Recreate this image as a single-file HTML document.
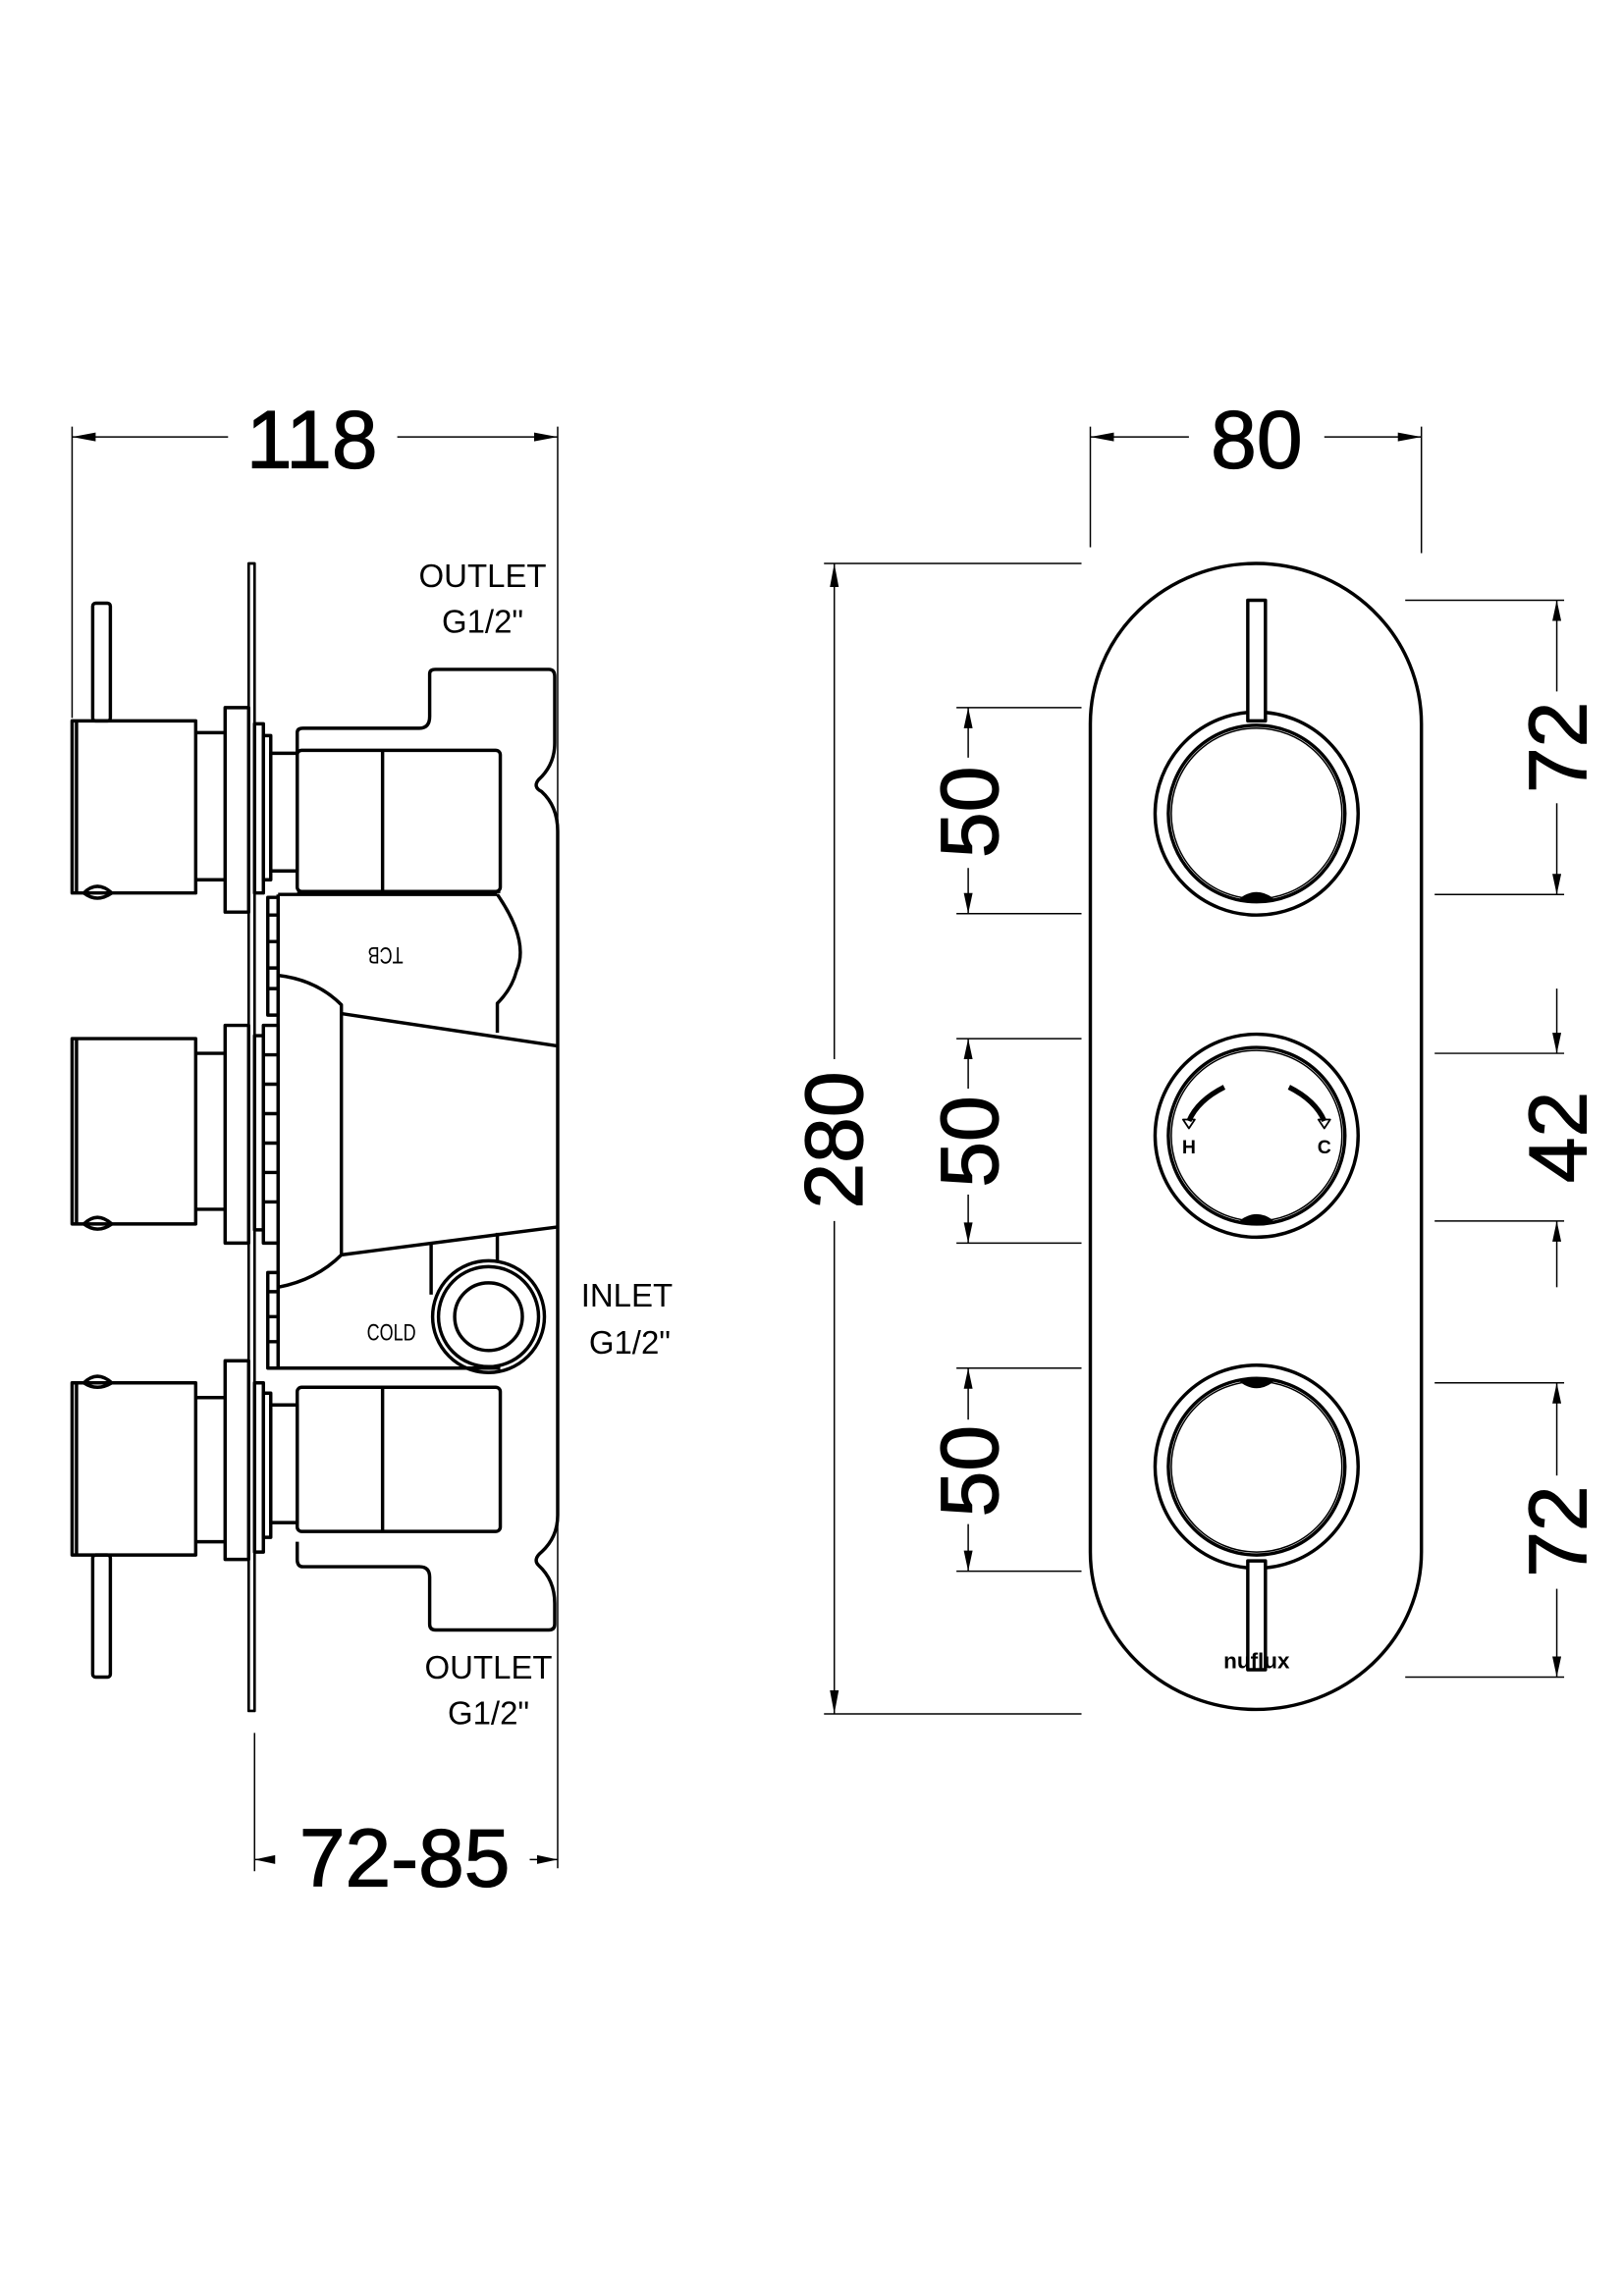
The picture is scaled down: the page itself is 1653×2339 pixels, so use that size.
<!DOCTYPE html>
<html><head><meta charset="utf-8"><style>
html,body{margin:0;padding:0;background:#fff;}
svg{display:block;}
text{font-family:"Liberation Sans",sans-serif;fill:#000;}
</style></head><body>
<svg width="1653" height="2339" viewBox="0 0 1103 1560.7" xmlns="http://www.w3.org/2000/svg">
<g fill="none" stroke="#000" stroke-width="2.3" stroke-linejoin="round">
<rect x="169" y="383" width="4" height="780" stroke-width="1.8"/>
<rect x="63" y="410" width="12" height="80" rx="2"/>
<rect x="49" y="490" width="84" height="117"/>
<line x1="52" y1="490" x2="52" y2="607"/>
<path d="M57,607 Q66,598 76,607 Q66,614 57,607Z"/>
<line x1="133" y1="498" x2="153" y2="498"/><line x1="133" y1="598" x2="153" y2="598"/>
<rect x="153" y="481" width="16" height="139"/>
<rect x="173" y="492" width="6" height="115"/>
<rect x="179" y="500" width="5" height="98"/>
<rect x="184" y="512" width="18" height="80"/>
<rect x="49" y="706" width="84" height="126"/>
<line x1="52" y1="706" x2="52" y2="832"/>
<path d="M57,832 Q66,823 76,832 Q66,839 57,832Z"/>
<line x1="133" y1="716" x2="153" y2="716"/><line x1="133" y1="822" x2="153" y2="822"/>
<rect x="153" y="697" width="16" height="148"/>
<rect x="173" y="704" width="6" height="132"/>
<rect x="179" y="697" width="10" height="148"/>
<path d="M179,717H189M179,737H189M179,757H189M179,777H189M179,797H189M179,817H189"/>
<rect x="63" y="1057" width="12" height="83" rx="2"/>
<rect x="49" y="940" width="84" height="117"/>
<line x1="52" y1="940" x2="52" y2="1057"/>
<path d="M57,940 Q66,931 76,940 Q66,946 57,940Z"/>
<line x1="133" y1="950" x2="153" y2="950"/><line x1="133" y1="1048" x2="153" y2="1048"/>
<rect x="153" y="925" width="16" height="135"/>
<rect x="173" y="940" width="6" height="115"/>
<rect x="179" y="947" width="5" height="98"/>
<rect x="184" y="955" width="18" height="80"/>
<rect x="182" y="610" width="7" height="80"/>
<path d="M182,622H189M182,640H189M182,658H189M182,672H189"/>
<rect x="182" y="865" width="7" height="65"/>
<path d="M182,878H189M182,895H189M182,912H189"/>
<line x1="189" y1="608" x2="189" y2="930"/>
<path d="M202,512 V498 Q202,495 206,495 H285 Q292,495 292,487 V458 Q292,455 296,455 H373 Q377,455 377,460 V505 Q377,520 366,530 Q362,535 368,538 Q379,548 379,565 V1030 Q379,1045 368,1055 Q362,1060 366,1064 Q377,1074 377,1090 V1104 Q377,1108 373,1108 H296 Q292,1108 292,1104 V1072 Q292,1065 285,1065 H206 Q202,1065 202,1060 V1048"/>
<rect x="202" y="510" width="138" height="96" rx="3"/>
<line x1="260" y1="510" x2="260" y2="606"/>
<line x1="202" y1="606" x2="340" y2="606"/>
<rect x="202" y="943" width="138" height="98" rx="3"/>
<line x1="260" y1="943" x2="260" y2="1041"/>
<line x1="189" y1="930" x2="340" y2="930"/>
<line x1="189" y1="608" x2="338" y2="608"/>
<path d="M338,608 Q360,640 351,660 Q348,672 338,682 V702"/>
<path d="M189,663 Q215,666 232,683 V853 Q215,870 189,875"/>
<line x1="232" y1="689" x2="379" y2="711"/>
<line x1="232" y1="853" x2="379" y2="834"/>
<line x1="293" y1="846" x2="293" y2="880"/>
<line x1="338" y1="838" x2="338" y2="858"/>
<circle cx="332" cy="895" r="38"/>
<circle cx="332" cy="895" r="34"/>
<circle cx="332" cy="895" r="23"/>
<g stroke-width="1">
<line x1="49" y1="290" x2="49" y2="488"/>
<line x1="379" y1="290" x2="379" y2="1270"/>
<line x1="49" y1="297" x2="155" y2="297"/><line x1="270" y1="297" x2="379" y2="297"/>
<line x1="173" y1="1178" x2="173" y2="1272"/>
<line x1="173" y1="1264" x2="185" y2="1264"/><line x1="360" y1="1264" x2="379" y2="1264"/>
</g>
<path d="M741,492 A112.5,109 0 0 1 966,492 V1055 A112.5,107 0 0 1 741,1055 Z"/>
<circle cx="854" cy="553" r="69"/>
<circle cx="854" cy="553" r="60"/><circle cx="854" cy="553" r="58" stroke-width="1"/>
<circle cx="854" cy="772" r="69"/>
<circle cx="854" cy="772" r="60"/><circle cx="854" cy="772" r="58" stroke-width="1"/>
<circle cx="854" cy="997" r="69"/>
<circle cx="854" cy="997" r="60"/><circle cx="854" cy="997" r="58" stroke-width="1"/>
<rect x="848" y="408" width="12" height="82" fill="#fff"/>
<rect x="848" y="1061" width="12" height="74" fill="#fff"/>
<path d="M844,611 Q854,604 864,611Z M844,830 Q854,823 864,830Z M844,939 Q854,946 864,939Z" fill="#000"/>
<path d="M832,739 Q814,748 808,762" stroke-width="3.5"/>
<path d="M876,739 Q894,748 900,762" stroke-width="3.5"/>
<path d="M804,761 L812,761 L808,767Z M896,761 L904,761 L900,767Z" stroke-width="1.2"/>
<g stroke-width="1">
<line x1="741" y1="290" x2="741" y2="372"/><line x1="966" y1="290" x2="966" y2="376"/>
<line x1="741" y1="297" x2="808" y2="297"/><line x1="900" y1="297" x2="966" y2="297"/>
<line x1="560" y1="383" x2="735" y2="383"/><line x1="560" y1="1165" x2="735" y2="1165"/>
<line x1="567" y1="383" x2="567" y2="720"/><line x1="567" y1="830" x2="567" y2="1165"/>
<line x1="650" y1="481" x2="735" y2="481"/><line x1="650" y1="621" x2="735" y2="621"/>
<line x1="650" y1="706" x2="735" y2="706"/><line x1="650" y1="845" x2="735" y2="845"/>
<line x1="650" y1="930" x2="735" y2="930"/><line x1="650" y1="1068" x2="735" y2="1068"/>
<line x1="658" y1="481" x2="658" y2="515"/><line x1="658" y1="590" x2="658" y2="621"/>
<line x1="658" y1="706" x2="658" y2="740"/><line x1="658" y1="812" x2="658" y2="845"/>
<line x1="658" y1="930" x2="658" y2="965"/><line x1="658" y1="1036" x2="658" y2="1068"/>
<line x1="955" y1="408" x2="1063" y2="408"/><line x1="975" y1="608" x2="1063" y2="608"/>
<line x1="975" y1="716" x2="1063" y2="716"/><line x1="975" y1="830" x2="1063" y2="830"/>
<line x1="975" y1="940" x2="1063" y2="940"/><line x1="955" y1="1140" x2="1063" y2="1140"/>
<line x1="1058" y1="408" x2="1058" y2="470"/><line x1="1058" y1="546" x2="1058" y2="608"/>
<line x1="1058" y1="672" x2="1058" y2="716"/><line x1="1058" y1="830" x2="1058" y2="875"/>
<line x1="1058" y1="940" x2="1058" y2="1003"/><line x1="1058" y1="1080" x2="1058" y2="1140"/>
</g>
</g>
<g fill="#000">
<path d="M49,297 l16,-3 v6Z M379,297 l-16,-3 v6Z"/>
<path d="M173,1264 l14,-3 v6Z M379,1264 l-14,-3 v6Z"/>
<path d="M741,297 l16,-3 v6Z M966,297 l-16,-3 v6Z"/>
<path d="M567,383 l-3,16 h6Z M567,1165 l-3,-16 h6Z"/>
<path d="M658,481 l-3,14 h6Z M658,621 l-3,-14 h6Z M658,706 l-3,14 h6Z M658,845 l-3,-14 h6Z M658,930 l-3,14 h6Z M658,1068 l-3,-14 h6Z"/>
<path d="M1058,408 l-3,14 h6Z M1058,608 l-3,-14 h6Z M1058,716 l-3,-14 h6Z M1058,830 l-3,14 h6Z M1058,940 l-3,14 h6Z M1058,1140 l-3,-14 h6Z"/>
</g>
<g stroke="#000" stroke-width="0.8">
<text x="212" y="318" font-size="56" text-anchor="middle">118</text>
<text x="854" y="318" font-size="56" text-anchor="middle">80</text>
<text x="275" y="1282" font-size="56" text-anchor="middle">72-85</text>
<g font-size="56" text-anchor="middle">
<text transform="translate(586,775) rotate(-90)">280</text>
<text transform="translate(678,552) rotate(-90)">50</text>
<text transform="translate(678,776) rotate(-90)">50</text>
<text transform="translate(678,1000) rotate(-90)">50</text>
<text transform="translate(1078,508) rotate(-90)">72</text>
<text transform="translate(1078,773) rotate(-90)">42</text>
<text transform="translate(1078,1041) rotate(-90)">72</text>
</g>
</g>
<text x="328" y="399" font-size="22" text-anchor="middle">OUTLET</text>
<text x="328" y="430" font-size="22" text-anchor="middle">G1/2"</text>
<text x="332" y="1141" font-size="22" text-anchor="middle">OUTLET</text>
<text x="332" y="1172" font-size="22" text-anchor="middle">G1/2"</text>
<text x="426" y="888" font-size="22" text-anchor="middle">INLET</text>
<text x="428" y="920" font-size="22" text-anchor="middle">G1/2"</text>
<text x="0" y="0" font-size="16" text-anchor="middle" transform="translate(262,644) scale(-0.75,-1)">TCB</text>
<text x="0" y="0" font-size="16" text-anchor="middle" transform="translate(266,911) scale(0.75,1)">COLD</text>
<text x="808" y="784" font-size="13" font-weight="bold" text-anchor="middle">H</text>
<text x="900" y="784" font-size="13" font-weight="bold" text-anchor="middle">C</text>
<text x="854" y="1134" font-size="15" font-weight="bold" text-anchor="middle">nuflux</text>
</svg>
</body></html>
